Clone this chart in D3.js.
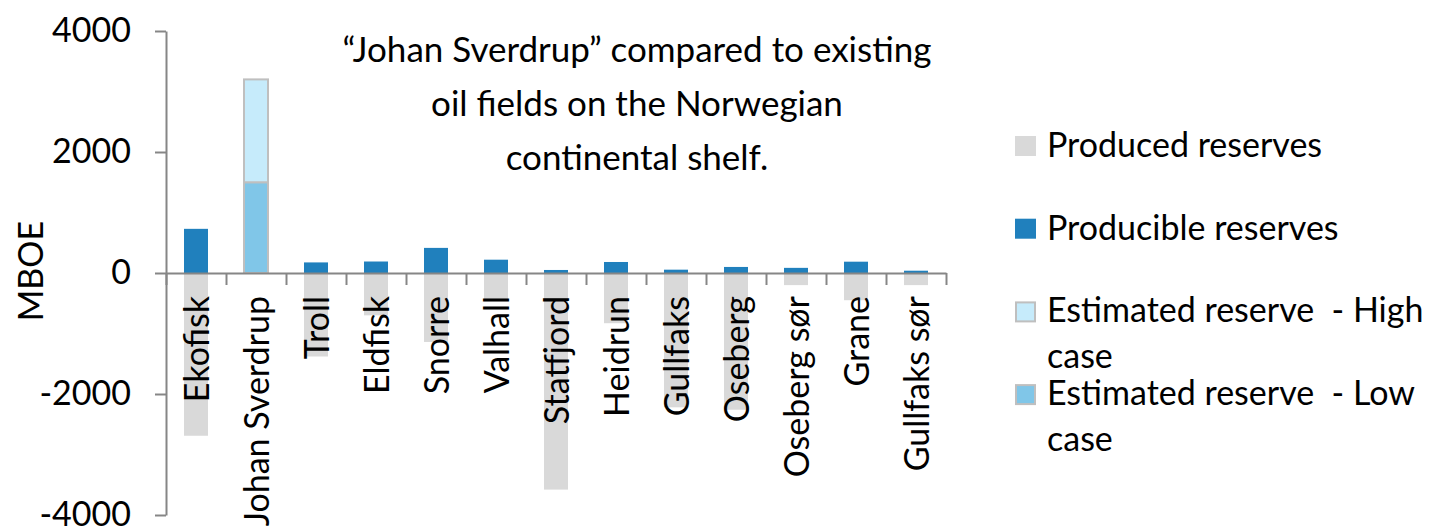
<!DOCTYPE html>
<html>
<head>
<meta charset="utf-8">
<script src="https://cdn.jsdelivr.net/npm/d3@7"></script>
<style>
  body { margin: 0; background: #fff; }
  svg text { font-family: Lato, "Open Sans", sans-serif; fill: #000; }
  .axis path, .axis line { stroke: #868686; stroke-width: 2; }
</style>
</head>
<body>
<svg id="chart" width="1431" height="528"></svg>
<script>
// fields on the x axis
const fields = ['Ekofisk', 'Johan Sverdrup', 'Troll', 'Eldfisk', 'Snorre', 'Valhall',
  'Statfjord', 'Heidrun', 'Gullfaks', 'Oseberg', 'Oseberg sør', 'Grane', 'Gullfaks sør'];

// MBOE, produced reserves drawn below zero
const produced   = [-2690, 0, -1380, -700, -1140, -440, -3580, -830, -2220, -2260, -200, -450, -200];
const producible = [730, 0, 175, 190, 415, 220, 50, 182, 55, 100, 85, 187, 38];
const lowCase    = [0, 1500, 0, 0, 0, 0, 0, 0, 0, 0, 0, 0, 0];
const highCase   = [0, 1700, 0, 0, 0, 0, 0, 0, 0, 0, 0, 0, 0];

const yTicks = [-4000, -2000, 0, 2000, 4000];

const seriesKeys = ['produced', 'producible', 'low', 'high'];
const legendKeys = ['produced', 'producible', 'high', 'low'];
const legendLabels = [['Produced reserves'], ['Producible reserves'],
  ['Estimated reserve  - High', 'case'], ['Estimated reserve  - Low', 'case']];
const colors = { produced: '#d9d9d9', producible: '#2080bd', low: '#80c6e8', high: '#c6ebfb' };
const strokes = { produced: 'none', producible: 'none', low: '#bfbfbf', high: '#bfbfbf' };

const noteLines = ['\u201CJohan Sverdrup\u201D compared to existing',
  'oil fields on the Norwegian', 'continental shelf.'];

function makeChart() {
  const svg = d3.select('#chart');
  const fs = 34;

  // table for the stack
  const table = fields.map((f, i) => ({
    field: f, produced: produced[i], producible: producible[i], low: lowCase[i], high: highCase[i]
  }));

  const stacked = d3.stack()
    .keys(seriesKeys)
    .offset(d3.stackOffsetDiverging)(table);

  const xScale = d3.scaleBand()
    .domain(fields)
    .range([166, 946])
    .paddingInner(0.6)
    .paddingOuter(0.3);

  const yScale = d3.scaleLinear()
    .domain([-4000, 4000])
    .range([515, 31]);

  // bars
  svg.selectAll('g.series')
    .data(stacked)
    .enter()
    .append('g')
    .attr('class', 'series')
    .attr('fill', (s) => colors[s.key])
    .attr('stroke', (s) => strokes[s.key])
    .attr('stroke-width', 2)
    .selectAll('rect')
    .data((s) => s.filter((d) => d[1] - d[0] !== 0))
    .enter()
    .append('rect')
    .attr('x', (d) => xScale(d.data.field))
    .attr('y', (d) => yScale(d[1]))
    .attr('width', xScale.bandwidth())
    .attr('height', (d) => yScale(d[0]) - yScale(d[1]));

  // y axis
  const yAxis = svg.append('g')
    .attr('class', 'axis')
    .attr('transform', 'translate(166,0)')
    .call(d3.axisLeft(yScale).tickValues(yTicks).tickSize(11).tickSizeOuter(0)
      .tickPadding(24).tickFormat((d) => String(d)));
  yAxis.selectAll('text').style('font-size', fs + 'px');

  // x axis: line at zero with ticks at category boundaries
  const boundary = d3.scaleLinear().domain([0, fields.length]).range([166, 946]);
  svg.append('g')
    .attr('class', 'axis')
    .attr('transform', `translate(0, ${yScale(0)})`)
    .call(d3.axisBottom(boundary).tickValues(d3.range(fields.length + 1))
      .tickSize(12).tickSizeOuter(0).tickFormat(''));

  // category labels, rotated
  svg.append('g')
    .selectAll('text')
    .data(fields)
    .enter()
    .append('text')
    .attr('transform', (d) => `translate(${xScale(d) + xScale.bandwidth() / 2}, 296) rotate(-90)`)
    .attr('text-anchor', 'end')
    .attr('dy', '0.38em')
    .style('font-size', fs + 'px')
    .text((d) => d);

  // y title
  svg.append('text')
    .attr('transform', 'translate(43, 271) rotate(-90)')
    .attr('text-anchor', 'middle')
    .style('font-size', fs + 'px')
    .text('MBOE');

  // note
  const noteY = [62, 116, 170];
  svg.append('g')
    .selectAll('text')
    .data(noteLines)
    .enter()
    .append('text')
    .attr('x', 637)
    .attr('y', (d, i) => noteY[i])
    .attr('text-anchor', 'middle')
    .style('font-size', '35px')
    .text((d) => d);

  // legend
  const legend = svg.append('g').attr('transform', 'translate(1015, 136)');
  const item = legend.selectAll('g')
    .data(legendKeys)
    .enter()
    .append('g')
    .attr('transform', (d, i) => `translate(0, ${i * 82.7})`);

  item.append('rect')
    .attr('x', (d) => strokes[d] === 'none' ? 0 : 1)
    .attr('y', (d) => strokes[d] === 'none' ? 0 : 1)
    .attr('width', (d) => strokes[d] === 'none' ? 21 : 19)
    .attr('height', (d) => strokes[d] === 'none' ? 20 : 19)
    .attr('fill', (d) => colors[d])
    .attr('stroke', (d) => strokes[d])
    .attr('stroke-width', 2);

  item.append('text')
    .attr('x', 32)
    .attr('y', 21)
    .style('font-size', fs + 'px')
    .style('white-space', 'pre')
    .selectAll('tspan')
    .data((d, i) => legendLabels[i])
    .enter()
    .append('tspan')
    .attr('x', 32)
    .attr('dy', (d, i) => i === 0 ? 0 : 46)
    .text((d) => d);
}

window.onload = function () {
  makeChart();
}
</script>
</body>
</html>
